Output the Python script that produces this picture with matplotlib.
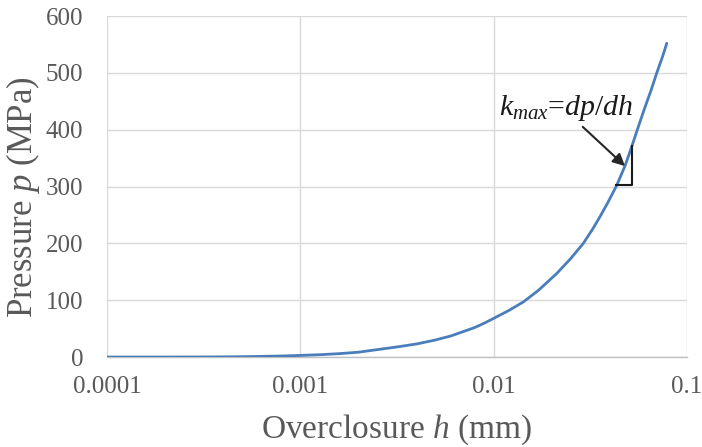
import matplotlib
matplotlib.use("Agg")
import matplotlib.pyplot as plt

# data
h_mm = [0.0001, 0.00015, 0.0002, 0.0003, 0.0004, 0.0005, 0.0006, 0.0008,
        0.001, 0.0013, 0.0016, 0.002, 0.0025, 0.0032, 0.004, 0.005, 0.006,
        0.007, 0.008, 0.009, 0.01, 0.012, 0.01425, 0.017, 0.0212, 0.025,
        0.0291, 0.0325, 0.0355, 0.039, 0.0433, 0.0479, 0.052, 0.055, 0.06,
        0.065, 0.0698, 0.075, 0.0786]
p_mpa = [0, 0, 0, 0.1, 0.3, 0.6, 1.0, 1.8,
         2.8, 4.3, 6, 8.5, 13, 18, 23, 30, 37,
         45, 52, 60, 68, 82, 97, 117, 147, 173,
         200, 225, 247, 272, 302, 337, 372, 397, 435,
         468, 500, 530, 552]

x_ticks = [0.0001, 0.001, 0.01, 0.1]
x_tick_labels = ["0.0001", "0.001", "0.01", "0.1"]
y_ticks = [0, 100, 200, 300, 400, 500, 600]

# slope-triangle and annotation positions (data coords)
tri_x = [0.0431, 0.0522, 0.0522]
tri_y = [302, 302, 372]
arrow_tip = (0.0478, 336)
arrow_start = (0.0289, 405)
text_pos = (0.0107, 426)

plt.rcParams['mathtext.fontset'] = 'custom'
plt.rcParams['mathtext.rm'] = 'Liberation Serif'
plt.rcParams['mathtext.it'] = 'Liberation Serif:italic'
plt.rcParams['font.family'] = ['Liberation Serif', 'DejaVu Serif']

fig = plt.figure(figsize=(7.02, 4.47), dpi=100)
ax = fig.add_axes([0.1524, 0.2013, 0.8262, 0.7629])

ax.plot(h_mm, p_mpa, color='#4a7ebb', lw=2.0, solid_capstyle='round', zorder=3)
ax.set_xscale('log')
ax.set_xlim(0.0001, 0.1)
ax.set_ylim(0, 600)
ax.set_xticks(x_ticks)
ax.set_xticklabels(x_tick_labels)
ax.set_yticks(y_ticks)
ax.minorticks_off()
ax.tick_params(axis='both', length=0, labelsize=18, labelcolor='#595959')
ax.tick_params(axis='x', pad=14)
ax.tick_params(axis='y', pad=17)
ax.grid(True, color='#d9d9d9', lw=1.0)
ax.set_axisbelow(True)
for s in ['top', 'right', 'left']:
    ax.spines[s].set_visible(False)
ax.spines['bottom'].set_color('#bfbfbf')
ax.spines['bottom'].set_linewidth(1.0)

ax.set_xlabel(r'Overclosure $h$ (mm)', fontsize=24, color='#595959', labelpad=10)
fig.text(23.3 / 702, 1 - 196.7 / 447, r'Pressure $p$ (MPa)', fontsize=25,
         color='#595959', rotation=90, ha='center', va='center')

ax.plot(tri_x, tri_y, color='#1a1a1a', lw=1.5, zorder=4)
ax.annotate('', xy=arrow_tip, xytext=arrow_start,
            arrowprops=dict(arrowstyle='-|>', color='#262626', lw=1.5,
                            mutation_scale=18, shrinkA=0, shrinkB=0), zorder=5)
ax.text(text_pos[0], text_pos[1], r'$k_{max}$=$dp/dh$', fontsize=21.5,
        color='#1a1a1a', ha='left', va='baseline')

fig.savefig('out.png', dpi=100)
